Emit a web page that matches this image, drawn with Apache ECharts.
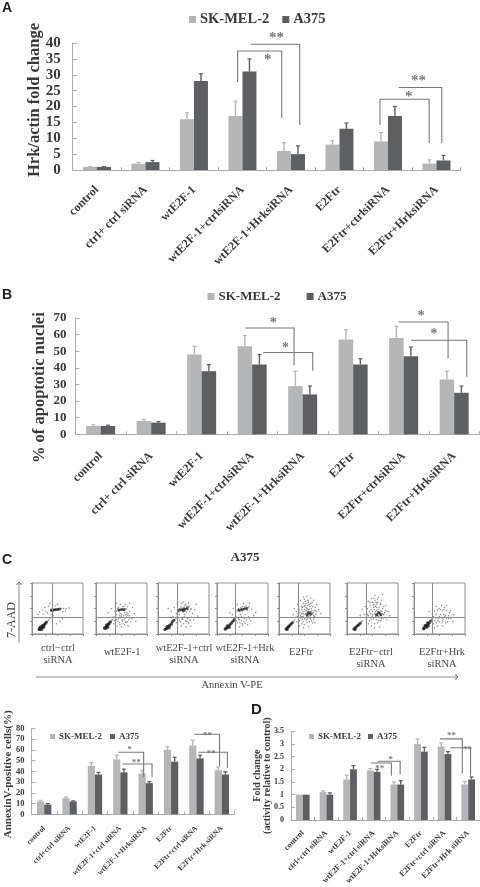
<!DOCTYPE html>
<html><head><meta charset="utf-8">
<style>html,body{margin:0;padding:0;background:#fff}#c{width:480px;height:887px;filter:blur(0.4px)}</style>
<script src="https://cdn.jsdelivr.net/npm/echarts@6/dist/echarts.min.js"></script>
</head><body><div id="c"></div>
<script>
const seriesNames = ['SK-MEL-2','A375'];
const catsAB = ['control','ctrl+ ctrl siRNA','wtE2F-1','wtE2F-1+ctrlsiRNA','wtE2F-1+HrksiRNA','E2Ftr','E2Ftr+ctrlsiRNA','E2Ftr+HrksiRNA'];
const catsCD = ['control','ctrl+ctrl siRNA','wtE2F-1','wtE2F-1+ctrl siRNA','wtE2F-1+HrksiRNA','E2Ftr','E2Ftr+ctrl siRNA','E2Ftr+Hrk siRNA'];

const aS1 = [1,2,16,17,6,8,9,2];
const aS2 = [1,2.5,28,31,5,13,17,3];
const aE1 = [0.1,0.4,2,4.7,2.6,1.2,2.8,1.2];
const aE2 = [0.1,0.5,2.3,4,2.6,1.8,3,1.6];
const bS1 = [5,8,48,53,29,57,58,33];
const bS2 = [5,7,38,42,24,42,47,25];
const bE1 = [0.7,1,5,6.5,9,6,7,5];
const bE2 = [0.5,0.7,4,6,5,3.5,5.5,4];
const cS1 = [12,15,45,51,38,60,64,41];
const cS2 = [9,12,37,39,29,49,52,37];
const cE1 = [1,1,3,4,3,3,5,3];
const cE2 = [1,0.5,2,3,1.5,4,3,2.5];
const dS1 = [1,1.1,1.6,1.95,1.4,3,2.9,1.4];
const dS2 = [1,1,2,1.9,1.4,2.7,2.6,1.6];
const dE1 = [0,0.05,0.17,0.08,0.1,0.2,0.15,0.12];
const dE2 = [0,0.07,0.15,0.1,0.15,0.17,0.1,0.1];

// significance brackets: [fromCat, fromOffset, fromValue|null, topValue, toCat, toOffset, toValue, mark, markCat, markOffset, markValue]
const bracketsA = [
  [3,-0.1,27.7,37.5,4,-0.19,16.4,'*',3,0.52,34.5],
  [3,0.17,null,39.6,4,0.18,14.2,'**',3,0.7,41.5],
  [6,-0.165,14.2,22.3,7,-0.15,8.5,'*',6,0.43,23],
  [6,0.22,null,26,7,0.11,8.5,'**',6,0.63,28]
];
const bracketsB = [
  [3,-0.14,null,64,4,-0.17,41.6,'*',3,0.42,67],
  [3,0.22,null,49.2,4,0.2,38.2,'*',3,0.66,52],
  [6,-0.1,null,67.6,7,-0.12,45.6,'*',6,0.35,71],
  [6,0.145,null,56.6,7,0.25,34.6,'*',6,0.6,60]
];
const bracketsC = [
  [3,-0.07,null,57.7,4,-0.08,35,'*',3,0.37,60],
  [3,0.09,null,46.8,4,0.25,34.4,'**',3,0.63,48],
  [6,-0.09,null,74.4,7,-0.09,45,'**',6,0.44,73],
  [6,0.08,null,57.7,7,0.22,43.3,'**',6,0.58,56]
];
const bracketsD = [
  [3,-0.13,null,2.25,4,-0.25,1.75,'**',3,0.26,2.03],
  [3,0.16,null,2.32,4,0.12,1.81,'*',3,0.72,2.38],
  [6,-0.2,null,3.2,7,-0.25,1.84,'**',6,0.29,3.32],
  [6,0.25,null,2.85,7,0.1,1.75,'**',6,0.97,2.78]
];

// flow-cytometry dot plots, [Annexin V-PE, 7-AAD] read by eye, 0-100 panel percent
const flow1 = [[14,8],[16,10],[17,12],[19,13],[20,15],[18,9],[15,11],[22,16],[21,13],[23,18],[25,19],[24,16],[27,22],[29,24],[26,20],[31,26],[33,28],[35,31],[16,7],[19,11],[13,9],[17,8],[20,11],[22,13],[18,14],[15,9],[24,20],[28,23],[21,17],[14,11],[19,16],[23,15],[37,46],[40,47],[43,47],[46,48],[49,48],[52,49],[55,49],[58,50],[42,46],[47,47],[51,48],[44,48],[38,45],[62,50],[67,50],[73,51],[21,47],[25,52],[15,44],[30,41],[33,55],[50,58],[27,44],[60,44],[12,38],[42,36],[38,38],[55,25],[48,20],[60,30],[35,60],[22,39],[45,55],[66,45]];
const flow2 = [[15,10],[17,12],[19,14],[21,16],[23,18],[20,13],[24,20],[26,21],[18,11],[22,15],[25,17],[28,24],[31,27],[33,29],[16,13],[20,17],[27,19],[23,14],[30,23],[34,33],[38,34],[40,44],[43,46],[47,47],[50,48],[54,47],[57,49],[60,49],[45,48],[52,49],[37,45],[48,32],[55,28],[60,33],[52,25],[46,22],[65,36],[58,38],[62,24],[50,39],[44,30],[70,30],[40,28],[56,18],[35,20],[66,44],[72,52],[48,58],[58,58],[66,60],[40,60],[30,50],[24,42],[75,40],[63,16],[42,15],[78,25],[50,14],[54,36],[47,41],[60,42],[68,24],[38,54],[52,54],[49,35],[57,31],[43,25],[64,28],[53,20],[59,22],[46,36],[41,38],[63,40],[56,42],[36,26],[51,28],[67,32],[61,37],[44,52],[55,54],[62,54],[42,50],[58,24],[47,18]];
const flow3 = [[12,8],[15,9],[17,12],[19,13],[22,16],[18,10],[24,18],[27,21],[20,14],[14,10],[16,11],[29,25],[32,28],[35,30],[21,17],[25,15],[28,18],[40,44],[42,47],[45,48],[48,48],[51,49],[54,50],[57,51],[60,52],[47,46],[53,46],[58,47],[50,52],[43,50],[62,55],[56,55],[65,50],[48,30],[54,26],[58,31],[44,24],[50,20],[60,22],[40,32],[66,33],[70,28],[46,16],[55,14],[36,22],[32,52],[26,44],[38,60],[50,62],[60,60],[72,48],[68,40],[42,38],[52,38],[36,40],[75,58],[20,50],[64,15],[30,34],[78,35],[45,53],[52,55],[59,54],[64,48],[49,43],[56,43],[62,44],[47,28],[52,33],[57,25],[42,27],[38,34],[63,27],[46,60],[54,58]];
const flow4 = [[15,9],[18,11],[20,13],[22,15],[24,17],[17,12],[19,10],[21,16],[26,19],[28,22],[30,24],[33,27],[23,13],[25,18],[16,8],[36,31],[38,33],[40,46],[43,47],[46,47],[49,48],[52,49],[55,50],[58,51],[61,52],[45,44],[50,45],[37,44],[63,54],[54,53],[47,52],[42,30],[48,26],[53,30],[45,22],[58,28],[40,22],[62,34],[66,26],[50,17],[36,16],[55,38],[32,50],[25,42],[40,58],[52,60],[68,48],[72,36],[46,38],[60,18],[76,42],[30,38],[44,14],[64,60],[42,50],[50,54],[57,55],[60,46],[48,34],[52,24],[56,32],[44,28],[38,26],[64,30],[49,20],[55,21]];
const flow5 = [[13,10],[15,12],[17,13],[19,16],[21,18],[23,20],[16,10],[18,14],[20,15],[25,21],[14,8],[22,17],[27,23],[29,25],[31,28],[44,40],[47,44],[50,48],[53,52],[56,56],[59,48],[62,44],[58,38],[54,34],[50,30],[46,28],[42,36],[40,48],[44,54],[48,60],[52,64],[57,66],[62,60],[66,54],[69,46],[72,38],[68,30],[64,26],[60,24],[55,22],[50,18],[45,20],[40,26],[36,34],[34,44],[37,58],[42,66],[48,72],[55,74],[62,70],[68,66],[74,58],[78,48],[76,32],[70,22],[58,14],[48,12],[40,16],[35,24],[60,36],[64,38],[56,42],[52,40],[58,44],[62,36],[66,40],[54,46],[49,38],[60,54],[53,60],[45,48],[82,40],[30,50],[28,38],[56,30],[68,36],[63,50],[47,34],[51,56],[55,50],[59,58],[64,46],[67,42],[57,34],[53,28],[48,24],[43,30],[41,42],[46,52],[50,68],[58,62],[65,62],[71,52],[74,44],[70,34],[61,30],[66,22],[52,44],[49,54],[57,48],[61,40],[55,36],[47,40],[44,34],[72,46],[38,40]];
const flow6 = [[12,9],[14,11],[16,12],[18,14],[20,16],[22,18],[15,9],[19,13],[24,20],[26,22],[28,24],[21,15],[17,10],[30,26],[42,36],[46,40],[50,44],[54,48],[58,52],[62,42],[66,38],[60,36],[56,34],[52,30],[48,28],[44,44],[40,50],[45,56],[50,62],[55,66],[60,62],[65,58],[70,50],[74,42],[72,32],[66,26],[60,22],[54,20],[48,16],[42,20],[38,28],[34,38],[36,54],[42,64],[48,70],[55,76],[62,72],[68,66],[76,56],[80,44],[64,40],[68,36],[60,40],[56,44],[62,34],[72,38],[66,46],[52,52],[58,58],[46,32],[84,36],[78,28],[30,48],[26,36],[70,78],[54,12],[64,14],[50,38],[64,32],[47,48],[52,58],[57,62],[63,52],[68,44],[70,40],[58,46],[54,40],[49,34],[44,26],[40,38],[45,62],[53,70],[60,68],[66,60],[72,54],[76,46],[58,28],[62,26],[68,30],[56,54],[61,48],[65,42],[59,36]];
const flow7 = [[17,10],[19,12],[21,14],[23,16],[25,18],[27,20],[20,10],[22,13],[24,15],[18,13],[26,17],[28,22],[30,24],[33,27],[29,18],[21,17],[25,22],[32,21],[35,30],[40,45],[46,47],[52,48],[58,48],[64,46],[48,30],[54,32],[60,34],[64,30],[56,26],[50,24],[44,22],[42,32],[68,36],[72,30],[62,22],[46,16],[56,16],[38,20],[36,40],[30,44],[44,54],[54,56],[64,56],[72,46],[78,38],[34,28],[58,38],[52,38],[66,24],[76,24],[40,12],[60,52],[50,34],[57,30],[62,37],[47,26],[41,26],[55,22],[68,30],[49,50],[56,45],[38,34],[70,42],[43,38]];
const flowCore1 = [[14,9],[16,10],[18,12],[20,14],[22,16],[24,18],[26,20],[28,23],[15,12],[19,9],[21,17],[17,14],[23,13],[38,47],[42,47],[46,48],[50,48],[54,49]];
const flowCore2 = [[17,12],[20,14],[22,16],[24,19],[26,21],[28,24],[19,11],[23,13],[21,18],[45,47],[50,48],[55,48]];
const flowCore3 = [[14,9],[17,11],[20,14],[23,17],[26,20],[28,24],[31,27],[18,15],[22,12],[42,47],[47,48],[52,49],[57,50],[50,46]];
const flowCore4 = [[16,10],[19,12],[22,14],[25,18],[28,21],[31,25],[34,28],[20,16],[24,13],[43,47],[48,48],[53,49],[58,50]];
const flowCore5 = [[14,10],[17,13],[20,16],[23,19],[26,22],[16,9],[19,14],[58,42],[62,40],[55,38]];
const flowCore6 = [[14,10],[17,13],[20,16],[23,18],[26,21],[16,9],[62,42],[66,38],[58,38]];
const flowCore7 = [[20,12],[23,15],[26,18],[29,21],[32,25],[22,17],[25,13],[28,16],[19,10],[27,22]];
const flowPanels = [flow1,flow2,flow3,flow4,flow5,flow6,flow7];
const flowCores = [flowCore1,flowCore2,flowCore3,flowCore4,flowCore5,flowCore6,flowCore7];
const flowGates = [[39,33],[37,33],[37,33],[35,33],[38,33],[37,33],[35,33]];
const flowLefts = [32,96,158,217,279,347,414];
const flowCaptions = [['ctrl−ctrl','siRNA'],['wtE2F-1'],['wtE2F-1+ctrl','siRNA'],['wtE2F-1+Hrk','siRNA'],['E2Ftr'],['E2Ftr−ctrl','siRNA'],['E2Ftr+Hrk','siRNA']];
const flowCaptionX = [58,122,184,245,301,371,442];
const flowCaptionY = [648,652,648,648,652,652,652];

const SERIF = '"Liberation Serif","Times New Roman",serif';
const SANS = '"Liberation Sans",Arial,sans-serif';
const C1 = '#b4b6b8', C2 = '#5d5f62', AX = '#a9abad', INK = '#3a3a3c';

const grids=[], xAxes=[], yAxes=[], series=[], legends=[], graphics=[];

function errRender(barW, side, color){
  return function(params, api){
    const v = api.value(1), e = api.value(2);
    if(!e) return null;
    const b = api.coord([api.value(0), v]), t = api.coord([api.value(0), v+e]);
    const x = b[0] + side*barW/2;
    return {type:'group',children:[
      {type:'line',shape:{x1:x,y1:b[1],x2:x,y2:t[1]},style:{stroke:color,lineWidth:1.4}},
      {type:'line',shape:{x1:x-2,y1:t[1],x2:x+2,y2:t[1]},style:{stroke:color,lineWidth:1.2}}
    ]};
  };
}
function bracketRender(specs, starSize){
  return function(params, api){
    const s = specs[params.dataIndex], w = api.size([1,0])[0];
    const p = (c,o,v)=>{const q=api.coord([c,v]);return [q[0]+o*w,q[1]];};
    const pts=[];
    if(s[2]!==null) pts.push(p(s[0],s[1],s[2]));
    pts.push(p(s[0],s[1],s[3]));
    pts.push(p(s[4],s[5],s[3]));
    pts.push(p(s[4],s[5],s[6]));
    const m=p(s[8],s[9],s[10]);
    return {type:'group',children:[
      {type:'polyline',shape:{points:pts},style:{stroke:'#77797b',lineWidth:1.1,fill:null}},
      {type:'text',style:{text:s[7],x:m[0],y:m[1],align:'center',verticalAlign:'middle',fill:'#77797b',font:'bold '+starSize+'px '+SERIF}}
    ]};
  };
}
function addBars(o){
  const g=grids.length;
  grids.push({left:o.left,width:o.width,top:o.top,height:o.height});
  xAxes.push({gridIndex:g,type:'category',data:o.cats,
    axisLine:{lineStyle:{color:AX,width:1}},axisTick:{show:true,length:3,lineStyle:{color:AX},inside:true},
    axisLabel:{interval:0,rotate:45,margin:o.catMargin,fontFamily:SERIF,fontWeight:'bold',fontSize:o.catSize,color:INK}});
  yAxes.push({gridIndex:g,type:'value',min:0,max:o.max,interval:o.interval,splitLine:{show:false},
    name:o.yName,nameLocation:'middle',nameGap:o.nameGap,nameMoveOverlap:false,
    nameTextStyle:{fontFamily:SERIF,fontWeight:'bold',fontSize:o.nameSize,color:INK,lineHeight:o.nameLine,padding:o.namePad},
    axisLine:{show:true,lineStyle:{color:AX,width:1}},axisTick:{show:true,inside:true,length:4,lineStyle:{color:AX}},
    axisLabel:{margin:o.labelMargin,fontFamily:SERIF,fontWeight:'bold',fontSize:o.tickSize,color:INK}});
  series.push({name:seriesNames[0],type:'bar',xAxisIndex:g,yAxisIndex:g,data:o.s1,barWidth:o.barW,barGap:0,itemStyle:{color:C1},silent:true});
  series.push({name:seriesNames[1],type:'bar',xAxisIndex:g,yAxisIndex:g,data:o.s2,barWidth:o.barW,barGap:0,itemStyle:{color:C2},silent:true});
  series.push({type:'custom',name:'err1',xAxisIndex:g,yAxisIndex:g,silent:true,z:3,renderItem:errRender(o.barW,-1,C1),encode:{x:0,y:1},data:o.s1.map((v,i)=>[i,v,o.e1[i]])});
  series.push({type:'custom',name:'err2',xAxisIndex:g,yAxisIndex:g,silent:true,z:3,renderItem:errRender(o.barW,1,C2),encode:{x:0,y:1},data:o.s2.map((v,i)=>[i,v,o.e2[i]])});
  series.push({type:'custom',name:'sig',xAxisIndex:g,yAxisIndex:g,silent:true,z:4,clip:false,renderItem:bracketRender(o.brackets,o.starSize),encode:{x:0,y:1},data:o.brackets.map(b=>[b[0],b[3]])});
  legends.push({data:seriesNames,left:o.legLeft,top:o.legTop,itemWidth:o.legBox,itemHeight:o.legBox,itemGap:o.legGap,
    selectedMode:false,icon:'rect',padding:0,textStyle:{fontFamily:SERIF,fontWeight:'bold',fontSize:o.legSize,color:INK,padding:[0,0,0,-1]}});
}
addBars({left:72.7,width:388,top:43,height:127,cats:catsAB,max:40,interval:5,s1:aS1,s2:aS2,e1:aE1,e2:aE2,brackets:bracketsA,barW:14,
  yName:'Hrk/actin fold change',nameGap:29,nameSize:16.5,namePad:[0,0,0,13],tickSize:15,labelMargin:12,catSize:12,catMargin:18,starSize:15,
  legLeft:189,legTop:12,legBox:7,legGap:13,legSize:14.5});
addBars({left:75.4,width:404,top:318,height:116.3,cats:catsAB,max:70,interval:10,s1:bS1,s2:bS2,e1:bE1,e2:bE2,brackets:bracketsB,barW:14.5,
  yName:'% of apoptotic nuclei',nameGap:27,nameSize:16.5,namePad:[0,23,0,0],tickSize:13,labelMargin:9,catSize:12,catMargin:20,starSize:14,
  legLeft:207.5,legTop:290,legBox:7,legGap:26,legSize:13});
addBars({left:31.5,width:203,top:728.3,height:86,cats:catsCD,max:80,interval:10,s1:cS1,s2:cS2,e1:cE1,e2:cE2,brackets:bracketsC,barW:7.2,
  yName:'AnnexinV-positive cells(%)',nameGap:18,nameSize:11,namePad:[0,6,0,0],tickSize:8.5,labelMargin:7,catSize:7.5,catMargin:13,starSize:9,
  legLeft:50,legTop:732,legBox:5,legGap:8,legSize:9});
addBars({left:291,width:189,top:731.3,height:92,cats:catsCD,max:3.5,interval:0.5,s1:dS1,s2:dS2,e1:dE1,e2:dE2,brackets:bracketsD,barW:6.8,
  yName:'Fold change\n(activity relative to control)',nameGap:19,nameSize:10,nameLine:10,namePad:[0,0,0,0],tickSize:8,labelMargin:7,catSize:8,catMargin:12,starSize:9,
  legLeft:309,legTop:732,legBox:5,legGap:7,legSize:9});

flowPanels.forEach((pts,i)=>{
  const g=grids.length, gate=flowGates[i];
  grids.push({left:flowLefts[i],width:51,top:583,height:51,show:true,borderColor:'#8e9092',borderWidth:1,backgroundColor:'transparent'});
  const ax={gridIndex:g,type:'value',min:0,max:100,interval:25,splitLine:{show:false},axisLabel:{show:false},
    axisLine:{show:true,lineStyle:{color:'#8e9092'}},axisTick:{show:true,length:2,lineStyle:{color:'#8e9092'}}};
  xAxes.push(ax); yAxes.push(Object.assign({},ax));
  series.push({type:'scatter',name:'flow'+(i+1),xAxisIndex:g,yAxisIndex:g,data:pts,symbolSize:1.6,silent:true,
    itemStyle:{color:'#2c2c2e',opacity:0.5},
    markLine:{silent:true,symbol:'none',animation:false,label:{show:false},lineStyle:{color:'#8a8c8e',width:1,type:'solid'},
      data:[{xAxis:gate[0]},{yAxis:gate[1]}]}});
  series.push({type:'scatter',name:'flowCore'+(i+1),xAxisIndex:g,yAxisIndex:g,data:flowCores[i],symbolSize:3.2,silent:true,
    itemStyle:{color:'#202022',opacity:0.75}});
  flowCaptions[i].forEach((t,k)=>graphics.push({type:'text',x:flowCaptionX[i],y:flowCaptionY[i]+k*12,
    style:{text:t,align:'center',verticalAlign:'middle',fill:'#4a4a4c',font:'10.5px '+SERIF}}));
});

const panelLetters=[['A',2,8,14],['B',2,295,14],['C',2,560,14],['D',251,710,15]];
panelLetters.forEach(p=>graphics.push({type:'text',x:p[1],y:p[2],style:{text:p[0],verticalAlign:'middle',fill:'#222',font:'bold '+p[3]+'px '+SANS}}));
graphics.push({type:'text',x:245,y:558,style:{text:'A375',align:'center',verticalAlign:'middle',fill:'#333',font:'bold 13px '+SERIF}});
graphics.push({type:'text',x:12,y:620,rotation:Math.PI/2,style:{text:'7-AAD',align:'center',verticalAlign:'middle',fill:'#444',font:'12px '+SERIF}});
graphics.push({type:'text',x:232,y:685,style:{text:'Annexin V-PE',align:'center',verticalAlign:'middle',fill:'#444',font:'10.5px '+SERIF}});
graphics.push({type:'polyline',shape:{points:[[19,643],[19,582]]},style:{stroke:'#8a8c8e',lineWidth:1,fill:null}});
graphics.push({type:'polyline',shape:{points:[[16.5,585],[19,582],[21.5,585]]},style:{stroke:'#666',lineWidth:1,fill:null}});
graphics.push({type:'polyline',shape:{points:[[36,677],[458,677]]},style:{stroke:'#8a8c8e',lineWidth:1.2,fill:null}});
graphics.push({type:'polyline',shape:{points:[[455,674.5],[458,677],[455,679.5]]},style:{stroke:'#666',lineWidth:1,fill:null}});

const chart=echarts.init(document.getElementById('c'),null,{renderer:'canvas'});
chart.setOption({animation:false,backgroundColor:'#fff',grid:grids,xAxis:xAxes,yAxis:yAxes,series:series,legend:legends,graphic:graphics,tooltip:{show:false}});
</script></body></html>
